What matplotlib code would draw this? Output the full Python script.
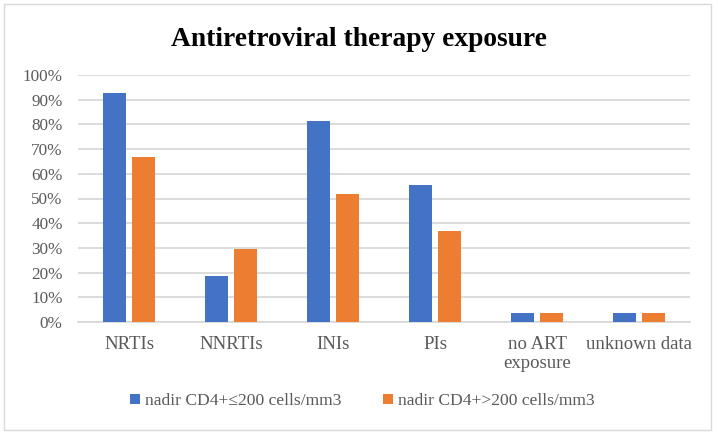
import matplotlib
matplotlib.use("Agg")
import matplotlib.pyplot as plt
import numpy as np
from matplotlib.patches import Rectangle

categories = ["NRTIs", "NNRTIs", "INIs", "PIs", "no ART\nexposure", "unknown data"]
low_cd4 = [0.926, 0.185, 0.815, 0.556, 0.037, 0.037]
high_cd4 = [0.667, 0.296, 0.519, 0.370, 0.037, 0.037]
series_names = ["nadir CD4+\u2264200 cells/mm3", "nadir CD4+>200 cells/mm3"]
yticks = np.arange(0, 1.01, 0.1)
ytick_labels = [f"{int(round(v*100))}%" for v in yticks]

plt.rcParams['font.family'] = ['Liberation Serif', 'DejaVu Serif']
text_color = "#595959"

fig = plt.figure(figsize=(7.18, 4.32), dpi=100)
ax = fig.add_axes([78/718, 1-322/432, (690-78)/718, (322-75)/432])

x = np.arange(len(categories))
w = 0.225
off = 0.143
ax.bar(x - off, low_cd4, w, color="#4472C4", label=series_names[0], zorder=3)
ax.bar(x + off, high_cd4, w, color="#ED7D31", label=series_names[1], zorder=3)

ax.set_xlim(-0.5, len(categories) - 0.5)
ax.set_ylim(0, 1)
ax.set_yticks(yticks)
ax.set_yticklabels(ytick_labels, fontsize=12.3)
ax.set_xticks(x)
ax.set_xticklabels(categories, fontsize=13.5, linespacing=1.2)
ax.tick_params(axis='both', length=0, colors=text_color)
ax.tick_params(axis='y', pad=11)
ax.tick_params(axis='x', pad=10)
ax.grid(axis='y', color="#d9d9d9", linewidth=1.3, zorder=0)
for s in ["top", "right", "left"]:
    ax.spines[s].set_visible(False)
ax.spines["bottom"].set_color("#d9d9d9")
ax.spines["bottom"].set_linewidth(1.3)

fig.text(0.5, 1-40/432, "Antiretroviral therapy exposure", ha="center", va="center",
         fontsize=19.8, fontweight="bold", color="black")

leg = fig.legend(loc="center", bbox_to_anchor=(0.505, 1-401/432), ncol=2, frameon=False,
                 fontsize=12.6, handlelength=0.55, handleheight=0.55, handletextpad=0.3,
                 columnspacing=2.4)
for t in leg.get_texts():
    t.set_color(text_color)

fig.patches.append(Rectangle((4/718, 2/432), 707/718, 426/432, transform=fig.transFigure,
                             fill=False, edgecolor="#d9d9d9", linewidth=1))

fig.savefig("out.png", dpi=100)
